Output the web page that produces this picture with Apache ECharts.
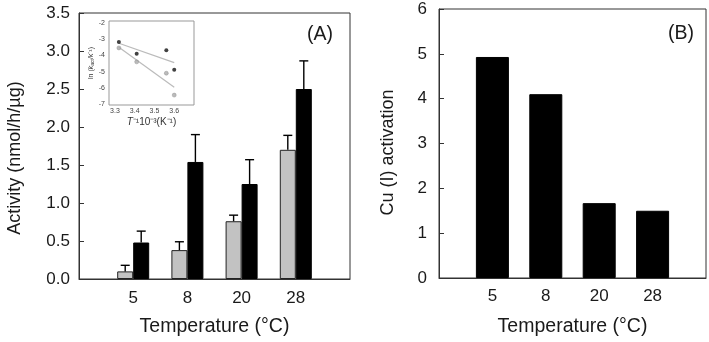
<!DOCTYPE html>
<html>
<head>
<meta charset="utf-8">
<script src="https://cdn.jsdelivr.net/npm/echarts@6/dist/echarts.min.js"></script>
<style>
  html, body { margin: 0; padding: 0; background: #fff; }
  #chart { width: 709px; height: 342px; }
</style>
</head>
<body>
<div id="chart"></div>
<script>
// ---------- data ----------
const categories = ['5', '8', '20', '28'];
const grayActivity = [0.10, 0.38, 0.76, 1.70];
const grayError = [0.08, 0.11, 0.08, 0.19];
const blackActivity = [0.48, 1.54, 1.25, 2.50];
const blackError = [0.15, 0.36, 0.32, 0.37];
const cuActivation = [4.93, 4.10, 1.67, 1.50];

// inset (Arrhenius plot)
const insetX = [3.32, 3.41, 3.56, 3.60];
const insetBlackY = [-3.17, -3.90, -3.69, -4.88];
const insetGrayY = [-3.54, -4.40, -5.10, -6.45];
const fitX = [3.32, 3.60];
const blackFitY = [-3.25, -4.45];
const grayFitY = [-3.50, -5.97];
const insetXTicks = [3.3, 3.4, 3.5, 3.6];
const insetYTicks = [-7, -6, -5, -4, -3, -2];

// ---------- helpers ----------
const FONT = 'Liberation Sans, Arial, sans-serif';
const TXT = '#1a1a1a';
const AX = '#333';
const pos = categories.map((c, i) => i + 1);
const catLabel = v => (Number.isInteger(v) && v >= 1 && v <= categories.length) ? categories[v - 1] : '';

function errRender(offset) {
  return function (params, api) {
    const x = api.value(0), y = api.value(1), e = api.value(2);
    const p0 = api.coord([x, y]);
    const p1 = api.coord([x, y + e]);
    const cx = p0[0] + offset;
    return {
      type: 'group',
      children: [
        { type: 'line', shape: { x1: cx, y1: p0[1], x2: cx, y2: p1[1] }, style: { stroke: '#000', lineWidth: 1.4 } },
        { type: 'line', shape: { x1: cx - 4.5, y1: p1[1], x2: cx + 4.5, y2: p1[1] }, style: { stroke: '#000', lineWidth: 1.4 } }
      ]
    };
  };
}

function mainX(gridIndex, margin, gap) {
  return {
    type: 'value', gridIndex, min: 0, max: 5, interval: 1,
    axisLine: { show: true, lineStyle: { color: AX, width: 1 } },
    axisTick: { show: false },
    splitLine: { show: false },
    axisLabel: { formatter: catLabel, color: TXT, fontSize: 17, fontFamily: FONT, margin },
    name: 'Temperature (°C)', nameLocation: 'middle', nameGap: gap,
    nameTextStyle: { color: TXT, fontSize: 19.5, fontFamily: FONT }
  };
}

const option = {
  backgroundColor: '#fff',
  animation: false,
  grid: [
    { left: 79, top: 13, width: 271, height: 269, show: true, borderColor: AX, borderWidth: 1, backgroundColor: 'transparent' },
    { left: 109, top: 21, width: 85, height: 84, show: true, borderColor: '#999', borderWidth: 1, backgroundColor: '#fff', z: 3 },
    { left: 439, top: 9, width: 267, height: 269, show: true, borderColor: AX, borderWidth: 1, backgroundColor: 'transparent' }
  ],
  xAxis: [
    mainX(0, 11, 38),
    {
      type: 'value', gridIndex: 1, min: 3.27, max: 3.70,
      axisLine: { show: false },
      splitLine: { show: false },
      axisTick: { show: true, inside: true, length: 2, customValues: insetXTicks, lineStyle: { color: '#888' } },
      axisLabel: { customValues: insetXTicks, formatter: v => v.toFixed(1), color: '#444', fontSize: 7, fontFamily: FONT, margin: 3 },
      name: '{it|T}{n|⁻¹10⁻³(K⁻¹)}', nameLocation: 'middle', nameGap: 12,
      nameTextStyle: { rich: { it: { fontStyle: 'italic', fontSize: 10, color: '#333', fontFamily: FONT }, n: { fontSize: 10, color: '#333', fontFamily: FONT } } }
    },
    mainX(2, 10, 39)
  ],
  yAxis: [
    {
      type: 'value', gridIndex: 0, min: 0, max: 3.5, interval: 0.5,
      axisLine: { show: true, lineStyle: { color: AX } },
      axisTick: { show: true, inside: true, length: 5, lineStyle: { color: AX } },
      splitLine: { show: false },
      axisLabel: { formatter: v => v.toFixed(1), color: TXT, fontSize: 17, fontFamily: FONT, margin: 9 },
      name: 'Activity (nmol/h/µg)', nameLocation: 'middle', nameGap: 55, nameRotate: 90,
      nameTextStyle: { color: TXT, fontSize: 18, fontFamily: FONT, padding: [0, 24, 0, 0] }
    },
    {
      type: 'value', gridIndex: 1, min: -7.06, max: -1.88,
      axisLine: { show: false },
      splitLine: { show: false },
      axisTick: { show: true, inside: true, length: 2, customValues: insetYTicks, lineStyle: { color: '#888' } },
      axisLabel: { customValues: insetYTicks, color: '#444', fontSize: 7, fontFamily: FONT, margin: 4 },
      name: '{n|ln (}{it|k}{sub|act}{n|/k⁻¹)}', nameLocation: 'middle', nameGap: 13, nameRotate: 90,
      nameTextStyle: { rich: {
        n: { fontSize: 7, color: '#333', fontFamily: FONT },
        it: { fontSize: 7, fontStyle: 'italic', color: '#333', fontFamily: FONT },
        sub: { fontSize: 5, color: '#333', fontFamily: FONT, verticalAlign: 'bottom', padding: [3, 0, 0, 0] }
      } }
    },
    {
      type: 'value', gridIndex: 2, min: 0, max: 6, interval: 1,
      axisLine: { show: true, lineStyle: { color: AX } },
      axisTick: { show: true, inside: true, length: 5, lineStyle: { color: AX } },
      splitLine: { show: false },
      axisLabel: { color: TXT, fontSize: 17, fontFamily: FONT, margin: 12 },
      name: 'Cu (I) activation', nameLocation: 'middle', nameGap: 42, nameRotate: 90,
      nameTextStyle: { color: TXT, fontSize: 18, fontFamily: FONT, padding: [0, 18, 0, 0] }
    }
  ],
  graphic: [
    { type: 'text', left: 307, top: 25, style: { text: '(A)', fontSize: 19.5, fontFamily: FONT, fill: TXT } },
    { type: 'text', left: 668, top: 24, style: { text: '(B)', fontSize: 19.5, fontFamily: FONT, fill: TXT } }
  ],
  series: [
    {
      type: 'bar', xAxisIndex: 0, yAxisIndex: 0, barWidth: 16, barGap: '0%',
      data: pos.map((p, i) => [p, grayActivity[i]]),
      itemStyle: { color: '#c2c2c2', borderColor: '#222', borderWidth: 1 }, z: 2
    },
    {
      type: 'bar', xAxisIndex: 0, yAxisIndex: 0, barWidth: 16, barGap: '0%',
      data: pos.map((p, i) => [p, blackActivity[i]]),
      itemStyle: { color: '#000', borderColor: '#000', borderWidth: 1 }, z: 2
    },
    {
      type: 'custom', xAxisIndex: 0, yAxisIndex: 0, renderItem: errRender(-8),
      data: pos.map((p, i) => [p, grayActivity[i], grayError[i]]), z: 3
    },
    {
      type: 'custom', xAxisIndex: 0, yAxisIndex: 0, renderItem: errRender(8),
      data: pos.map((p, i) => [p, blackActivity[i], blackError[i]]), z: 3
    },
    {
      type: 'line', xAxisIndex: 1, yAxisIndex: 1, symbol: 'none',
      data: fitX.map((x, i) => [x, blackFitY[i]]),
      lineStyle: { color: '#bbb', width: 1.2 }, z: 5
    },
    {
      type: 'line', xAxisIndex: 1, yAxisIndex: 1, symbol: 'none',
      data: fitX.map((x, i) => [x, grayFitY[i]]),
      lineStyle: { color: '#bbb', width: 1.2 }, z: 5
    },
    {
      type: 'scatter', xAxisIndex: 1, yAxisIndex: 1, symbolSize: 4,
      data: insetX.map((x, i) => [x, insetBlackY[i]]),
      itemStyle: { color: '#111' }, z: 6
    },
    {
      type: 'scatter', xAxisIndex: 1, yAxisIndex: 1, symbolSize: 4,
      data: insetX.map((x, i) => [x, insetGrayY[i]]),
      itemStyle: { color: '#aaa', borderColor: '#888', borderWidth: 0.5 }, z: 6
    },
    {
      type: 'bar', xAxisIndex: 2, yAxisIndex: 2, barWidth: 33,
      data: pos.map((p, i) => [p, cuActivation[i]]),
      itemStyle: { color: '#000', borderColor: '#000', borderWidth: 1 }
    }
  ]
};

const chart = echarts.init(document.getElementById('chart'), null, { renderer: 'canvas' });
chart.setOption(option);
</script>
</body>
</html>
